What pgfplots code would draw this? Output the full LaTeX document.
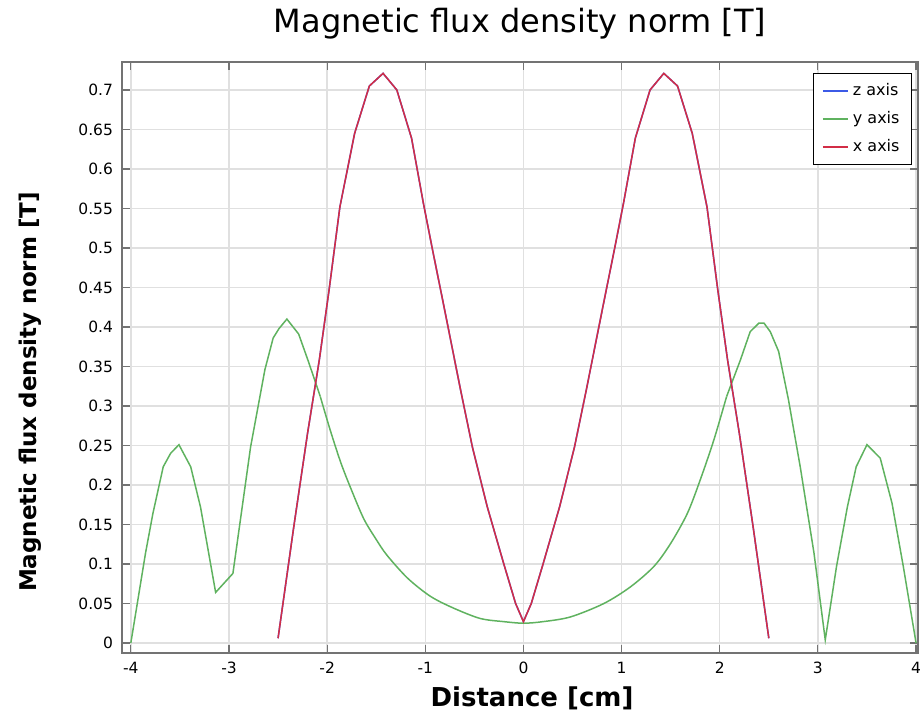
\documentclass[border=0pt]{standalone}
\usepackage{pgfplots}
\pgfplotsset{compat=1.18}
\usepackage{pgfplotstable}
\usepackage{fontspec}
\setmainfont{DejaVu Sans}
\definecolor{cblue}{RGB}{60,90,230}
\definecolor{cgreen}{RGB}{95,178,95}
\definecolor{cred}{RGB}{210,45,70}

\pgfplotstableread{
x y
-2.50 0.006
-2.34 0.147
-2.20 0.265
-2.08 0.358
-1.98 0.447
-1.87 0.552
-1.72 0.645
-1.57 0.705
-1.43 0.721
-1.29 0.700
-1.14 0.639
-1.02 0.557
-0.93 0.500
-0.81 0.426
-0.64 0.320
-0.52 0.248
-0.37 0.173
-0.20 0.100
-0.08 0.050
0.00 0.027
0.08 0.050
0.20 0.100
0.37 0.173
0.52 0.248
0.64 0.320
0.81 0.426
0.93 0.500
1.02 0.557
1.14 0.639
1.29 0.700
1.43 0.721
1.57 0.705
1.72 0.645
1.87 0.552
1.98 0.447
2.08 0.358
2.20 0.265
2.34 0.147
2.50 0.006
}\xaxisdata

\pgfplotstableread{
x y
-4.00 0.000
-3.85 0.114
-3.775 0.164
-3.67 0.223
-3.595 0.240
-3.51 0.251
-3.39 0.223
-3.29 0.172
-3.136 0.064
-2.96 0.088
-2.78 0.248
-2.634 0.346
-2.55 0.386
-2.49 0.398
-2.41 0.410
-2.29 0.391
-2.19 0.356
-2.07 0.312
}\yleft

\pgfplotstableread{
x y
-2.07 0.312
-1.97 0.270
-1.86 0.228
-1.75 0.193
-1.626 0.157
-1.50 0.131
-1.39 0.111
-1.18 0.082
-0.947 0.059
-0.71 0.044
-0.44 0.031
-0.20 0.027
0.00 0.025
0.20 0.027
0.48 0.033
0.82 0.050
1.09 0.071
1.33 0.097
1.50 0.126
1.67 0.164
1.80 0.206
1.94 0.257
2.07 0.312
}\ymid

\pgfplotstableread{
x y
2.07 0.312
2.21 0.358
2.31 0.394
2.40 0.405
2.45 0.405
2.515 0.394
2.60 0.369
2.70 0.308
2.82 0.223
2.96 0.114
3.075 0.004
3.19 0.097
3.30 0.172
3.39 0.223
3.50 0.251
3.635 0.234
3.755 0.177
3.87 0.097
4.00 0.000
}\yright

\begin{document}
\begin{tikzpicture}
\path[use as bounding box] (-61pt,-33pt) rectangle (399pt,326.5pt);
\begin{axis}[
  at={(0pt,0pt)}, anchor=south west,
  scale only axis, width=398pt, height=295.5pt,
  xmin=-4.09, xmax=4.02, ymin=-0.0127, ymax=0.7354,
  xtick={-4,-3,-2,-1,0,1,2,3,4},
  ytick={0,0.05,0.1,0.15,0.2,0.25,0.3,0.35,0.4,0.45,0.5,0.55,0.6,0.65,0.7},
  grid=major,
  major grid style={color=black!12, line width=0.7pt},
  axis line style={color=black!55, line width=0.8pt},
  tick style={color=black!55, line width=0.6pt},
  major tick length=4pt,
  /pgf/number format/assume math mode=true,
  tick label style={font=\fontsize{7.75}{9}\selectfont},
  yticklabel style={/pgf/number format/fixed, /pgf/number format/precision=2, xshift=-1pt},
  xticklabel style={yshift=-1pt},
  title={Magnetic flux density norm [T]},
  title style={font=\fontsize{16}{19}\selectfont, at={(axis description cs:0.5,1)}, anchor=base, yshift=8.5pt},
  xlabel={\bfseries Distance [cm]},
  xlabel style={font=\fontsize{13}{15}\selectfont, at={(axis description cs:0.5,0)}, anchor=base, yshift=-26.5pt, xshift=6pt},
  ylabel={\bfseries Magnetic flux density norm [T]},
  ylabel style={font=\fontsize{11.5}{14}\selectfont, at={(axis description cs:-0.1156,0.4416)}, anchor=center},
  legend style={at={(axis description cs:1,1)}, anchor=north east, xshift=-3pt, yshift=-5.5pt,
    draw=black, line width=0.5pt, font=\fontsize{8}{10}\selectfont, row sep=2.5pt,
    inner xsep=4pt, inner ysep=3pt},
  legend cell align=left,
  legend image code/.code={\draw[#1] (0pt,0pt) -- (12.5pt,0pt);},
]
\addlegendimage{color=cblue, line width=1pt}
\addlegendentry{z axis}
\addlegendimage{color=cgreen, line width=1pt}
\addlegendentry{y axis}
\addlegendimage{color=cred, line width=1pt}
\addlegendentry{x axis}
\addplot[color=cblue, line width=0.75pt, forget plot] table[x=x, y=y] {\xaxisdata};
\addplot[color=cgreen, line width=0.75pt, forget plot] table[x=x, y=y] {\yleft};
\addplot[color=cgreen, line width=0.75pt, smooth, tension=0.5, forget plot] table[x=x, y=y] {\ymid};
\addplot[color=cgreen, line width=0.75pt, forget plot] table[x=x, y=y] {\yright};
\addplot[color=cred, line width=0.75pt, forget plot] table[x=x, y=y] {\xaxisdata};
\end{axis}
\end{tikzpicture}
\end{document}
